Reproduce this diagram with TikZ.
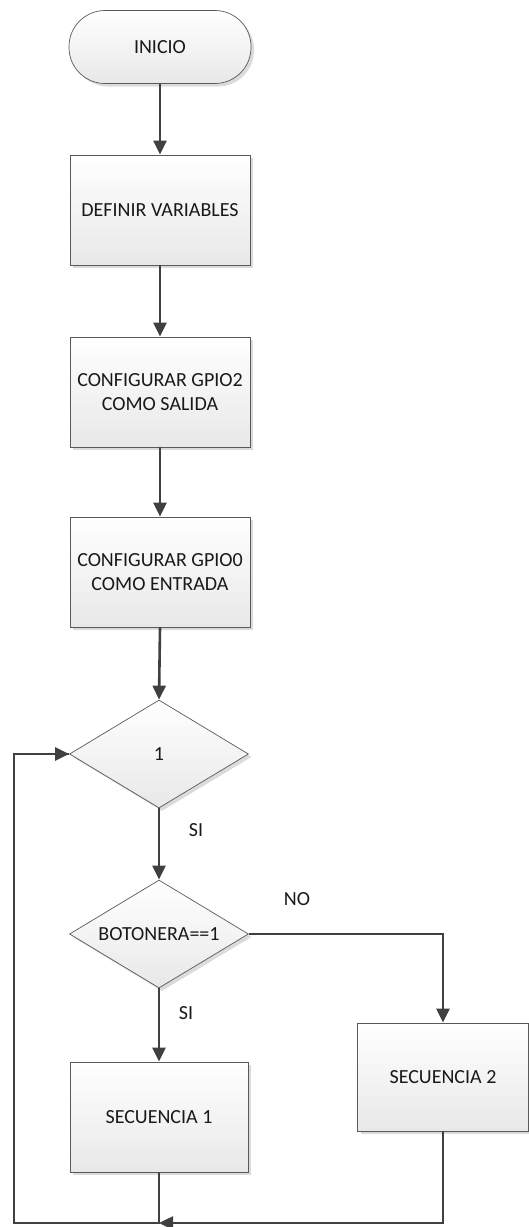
\documentclass[tikz,border=0pt]{standalone}
\usepackage{fontspec}
\setmainfont{Carlito}
\usetikzlibrary{shapes.geometric,arrows.meta,shadows}

\begin{document}
\begin{tikzpicture}[x=1pt,y=-1pt,
  every node/.style={font=\fontsize{20}{24}\selectfont, text=black!90},
  shapebase/.style={draw=black!65, line width=0.7pt, top color=white, bottom color=black!9,
    inner sep=0pt, align=center,
    drop shadow={shadow xshift=3pt, shadow yshift=-3pt, fill=black!14, opacity=1}},
  procbox/.style={shapebase, rectangle, minimum width=180pt, minimum height=110pt},
  termbox/.style={shapebase, rectangle, rounded corners=36pt, minimum width=182pt, minimum height=73pt},
  decbox/.style={shapebase, diamond, minimum width=179pt, minimum height=108pt},
  flow/.style={draw=black!75, line width=2.6pt, -{Triangle[length=14pt,width=13pt]}},
  plain/.style={draw=black!75, line width=2.6pt},
  lbl/.style={inner sep=0pt}
]
\useasboundingbox (0,0) rectangle (529,1227);

% main column
\node[termbox] (inicio) at (160,47) {INICIO};
\node[procbox] (defvar) at (160,210) {DEFINIR VARIABLES};
\node[procbox] (gpio2) at (160,392) {CONFIGURAR GPIO2\\COMO SALIDA};
\node[procbox] (gpio0) at (160,572) {CONFIGURAR GPIO0\\COMO ENTRADA};
\node[decbox] (loop) at (159,754) {\makebox[0pt]{1}};
\node[decbox] (boton) at (159,934) {\makebox[0pt]{BOTONERA==1}};
\node[procbox, minimum width=178pt] (sec1) at (159,1117) {SECUENCIA 1};
\node[procbox, minimum width=171pt, minimum height=108pt] (sec2) at (443,1077) {SECUENCIA 2};

% loop-back points
\coordinate (join) at (159,1223);
\coordinate (corner) at (14,1223);

% connectors
\draw[flow] (inicio.south) -- (defvar.north);
\draw[flow] (defvar.south) -- (gpio2.north);
\draw[flow] (gpio2.south) -- (gpio0.north);
\draw[flow] (gpio0.south) -- (loop.north);
\draw[flow] (loop.south) -- (boton.north);
\draw[flow] (boton.south) -- (sec1.north);
\draw[flow] (boton.east) -| (sec2.north);
\draw[flow] (sec2.south) |- (join);
\draw[plain] (sec1.south) -- (join) -- (corner) |- (loop.west);
\draw[flow] (corner |- loop.west) -- (loop.west);

% branch labels
\node[lbl] (si1) at (196,830) {SI};
\node[lbl] (si2) at (186,1013) {SI};
\node[lbl] (no) at (297,899) {NO};
\end{tikzpicture}
\end{document}
